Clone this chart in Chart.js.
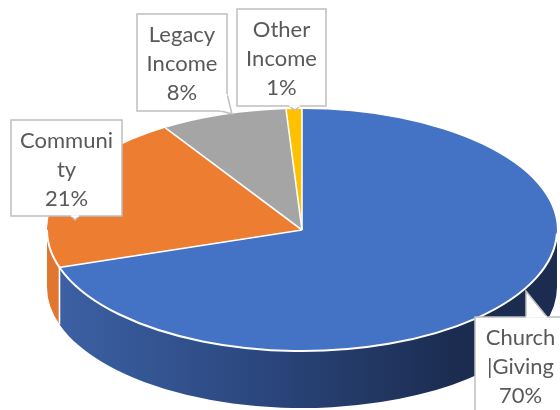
<!DOCTYPE html>
<html>
<head>
<meta charset="utf-8">
<script src="https://cdn.jsdelivr.net/npm/chart.js@4.4.0/dist/chart.umd.min.js"></script>
<style>
  html, body { margin: 0; padding: 0; background: #fff; }
</style>
</head>
<body>
<canvas id="c" width="560" height="410"></canvas>
<script>
const labels = ["Church |Giving", "Community", "Legacy Income", "Other Income"];
const values = [70, 21, 8, 1];
const topColors = ["#4472c4", "#ed7d31", "#a5a5a5", "#ffc000"];
const sideColors = [null, "#e0762f", "#8c8c8c", "#d9a300"];

// where the tilted disc sits on the page
const disc = { cx: 302, cy: 230, rx: 255, ry: 121, depth: 57 };

// callout boxes [left, top, right, bottom] plus the little pointer
const callouts = [
  { box: [475, 317, 566, 416], tail: [[526, 317], [526, 291], [547, 317]] },
  { box: [11, 120, 122, 216], tail: [[71, 216], [75, 220], [79, 216]] },
  { box: [137, 14, 227, 111], tail: [[227, 94], [232, 114], [221, 111]] },
  { box: [237, 9, 326, 106], tail: [[289, 106], [295, 110], [300, 106]] },
];

const FONT = "22px Lato";
const TEXT = "#595959";

function frontSpans(a1, a2) {
  // bits of the arc that face the viewer (lower half of the ellipse)
  const out = [];
  for (let k = -1; k <= 1; k++) {
    const s = Math.max(a1, 2 * Math.PI * k);
    const e = Math.min(a2, 2 * Math.PI * k + Math.PI);
    if (e > s) out.push([s, e]);
  }
  return out;
}

function wrap(ctx, text, maxW) {
  const lines = [];
  let cur = "";
  for (const word of text.split(" ")) {
    const t = cur ? cur + " " + word : word;
    if (ctx.measureText(t).width <= maxW) { cur = t; continue; }
    if (cur) lines.push(cur);
    cur = "";
    for (const ch of word) {
      if (cur && ctx.measureText(cur + ch).width > maxW) { lines.push(cur); cur = ch; }
      else cur += ch;
    }
  }
  if (cur) lines.push(cur);
  return lines;
}

const tilt = {
  id: "tilt",
  beforeDatasetsDraw(chart) {
    const ctx = chart.ctx;
    const arcs = chart.getDatasetMeta(0).data;
    const { cx, cy, rx, ry, depth } = disc;

    // side wall first
    arcs.forEach((el, i) => {
      for (const [s, e] of frontSpans(el.startAngle, el.endAngle)) {
        ctx.beginPath();
        ctx.ellipse(cx, cy, rx, ry, 0, s, e);
        ctx.ellipse(cx, cy + depth, rx, ry, 0, e, s, true);
        ctx.closePath();
        if (i === 0) {
          const g = ctx.createLinearGradient(cx - rx, 0, cx + rx * 0.6, 0);
          g.addColorStop(0, "#3d62a6");
          g.addColorStop(0.5, "#2c4880");
          g.addColorStop(1, "#1b2c50");
          ctx.fillStyle = g;
        } else {
          ctx.fillStyle = sideColors[i];
        }
        ctx.fill();
      }
    });

    // squash the library's circle into the disc top
    const el = arcs[0];
    const r = el.outerRadius;
    ctx.save();
    ctx.translate(cx, cy);
    ctx.scale(rx / r, ry / r);
    ctx.translate(-el.x, -el.y);
  },
  afterDatasetsDraw(chart) {
    const ctx = chart.ctx;
    ctx.restore();
    const arcs = chart.getDatasetMeta(0).data;
    const { cx, cy, rx, ry, depth } = disc;

    ctx.save();
    ctx.strokeStyle = "#ffffff";
    ctx.lineWidth = 2;
    ctx.beginPath();
    ctx.ellipse(cx, cy, rx, ry, 0, 0.03, Math.PI);
    ctx.stroke();
    ctx.lineWidth = 1.6;
    arcs.forEach(el => {
      const a = el.startAngle;
      const px = cx + rx * Math.cos(a), py = cy + ry * Math.sin(a);
      ctx.beginPath();
      ctx.moveTo(cx, cy);
      ctx.lineTo(px, py);
      if (Math.sin(a) > 0.01) ctx.lineTo(px, py + depth);
      ctx.stroke();
    });
    ctx.restore();

    // callouts
    const total = values.reduce((a, b) => a + b, 0);
    ctx.save();
    ctx.font = FONT;
    ctx.textAlign = "center";
    ctx.textBaseline = "alphabetic";
    callouts.forEach((c, i) => {
      const [l, t, rr, b] = c.box;
      ctx.beginPath();
      ctx.rect(l, t, rr - l, b - t);
      ctx.fillStyle = "#ffffff";
      ctx.fill();
      ctx.strokeStyle = "#bfbfbf";
      ctx.lineWidth = 1.5;
      ctx.stroke();
      ctx.beginPath();
      ctx.moveTo(c.tail[0][0], c.tail[0][1]);
      ctx.lineTo(c.tail[1][0], c.tail[1][1]);
      ctx.lineTo(c.tail[2][0], c.tail[2][1]);
      ctx.fill();
      ctx.stroke();
      ctx.beginPath();
      ctx.moveTo(c.tail[0][0], c.tail[0][1]);
      ctx.lineTo(c.tail[2][0], c.tail[2][1]);
      ctx.strokeStyle = "#ffffff";
      ctx.lineWidth = 1.5;
      ctx.stroke();

      const lines = wrap(ctx, labels[i], rr - l - 12);
      lines.push(Math.round(values[i] / total * 100) + "%");
      ctx.fillStyle = TEXT;
      lines.forEach((s, k) => ctx.fillText(s, (l + rr) / 2, t + 28 + k * 29));
    });
    ctx.restore();
  }
};

new Chart(document.getElementById("c"), {
  type: "pie",
  data: {
    labels,
    datasets: [{ data: values, backgroundColor: topColors, borderWidth: 0, clip: false }]
  },
  options: {
    responsive: false,
    animation: false,
    events: [],
    plugins: { legend: { display: false }, tooltip: { enabled: false } }
  },
  plugins: [tilt]
});
</script>
</body>
</html>
